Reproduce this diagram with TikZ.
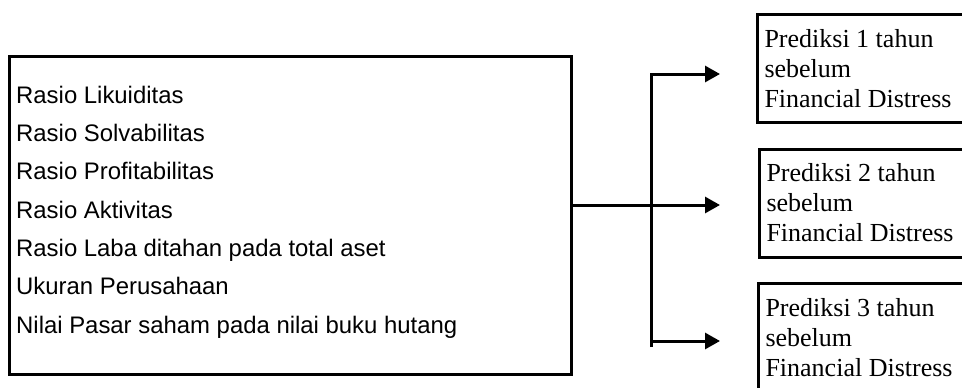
\documentclass[tikz,border=0pt]{standalone}
\usepackage{fontspec}
\setmainfont{Liberation Serif}
\newfontfamily\arialfont{Liberation Sans}
\usetikzlibrary{arrows.meta}
\tikzset{
  ratiobox/.style={draw, line width=3pt, minimum width=562pt, minimum height=318pt},
  predbox/.style={draw, line width=3pt, minimum width=215pt, minimum height=108pt,
    text width=200pt, align=flush left, inner xsep=4pt, anchor=west,
    font=\fontsize{26}{30}\selectfont},
  branch/.style={line width=3pt, -{Triangle[length=15pt,width=16pt]}}
}

\begin{document}
\begin{tikzpicture}[x=1pt,y=-1pt]
  \useasboundingbox (0,0) rectangle (962,388);
  % left box with the ratios
  \node[ratiobox] (ratios) at (290.5,215.5) {};
  \node[anchor=base west, align=left, inner sep=0pt,
    font=\arialfont\fontsize{23.9}{38.3}\selectfont] (ratiolist) at (16,333)
    {Rasio Likuiditas\\ Rasio Solvabilitas\\ Rasio Profitabilitas\\ Rasio Aktivitas\\
     Rasio Laba ditahan pada total aset\\ Ukuran Perusahaan\\
     Nilai Pasar saham pada nilai buku hutang};
  % predictions
  \node[predbox] (pred1) at (755.5,68.5) {Prediksi 1 tahun\\ sebelum\\ Financial Distress};
  \node[predbox] (pred2) at (757.5,203) {Prediksi 2 tahun\\ sebelum\\ Financial Distress};
  \node[predbox] (pred3) at (756.5,337.5) {Prediksi 3 tahun\\ sebelum\\ Financial Distress};
  % connectors
  \coordinate (fork) at (651,205);
  \coordinate (tip1) at (720,74);
  \coordinate (tip2) at (720,205);
  \coordinate (tip3) at (720,341);
  \draw[branch] (ratios.east |- fork) -- (tip2);
  \draw[branch] (fork |- 0,347) -- (fork |- tip1) -- (tip1);
  \draw[branch] (fork |- tip3) -- (tip3);
\end{tikzpicture}
\end{document}
